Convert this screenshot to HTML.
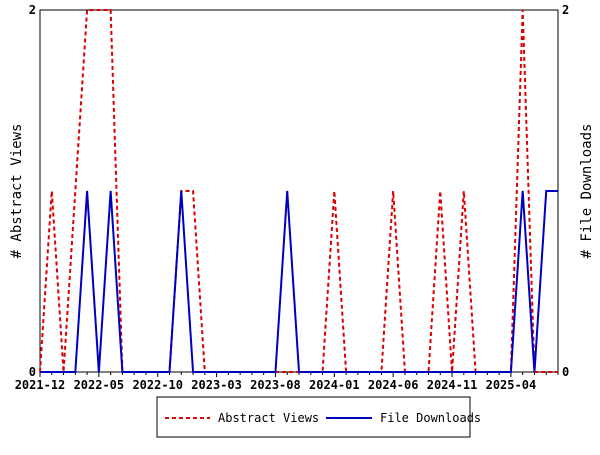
<!DOCTYPE html>
<html><head><meta charset="utf-8"><style>
body{margin:0;background:#fff}
svg text{font-family:"DejaVu Sans Mono","Liberation Mono",monospace;font-size:12px;font-weight:bold}
</style></head><body>
<svg id="c" width="600" height="450" xmlns="http://www.w3.org/2000/svg">
<rect x="40" y="10" width="518" height="362" fill="#fff" stroke="#000"/>
<g id="xt"></g>
<g id="series"></g>
<text x="36" y="14" text-anchor="end">2</text>
<text x="36" y="376" text-anchor="end">0</text>
<text x="562" y="14">2</text>
<text x="562" y="376">0</text>
<text transform="translate(21,191) rotate(-90)" text-anchor="middle" style="font-size:14px;font-weight:normal"># Abstract Views</text>
<text transform="translate(591,191) rotate(-90)" text-anchor="middle" style="font-size:14px;font-weight:normal"># File Downloads</text>
<g>
<rect x="157" y="397" width="313" height="40" fill="#fff" stroke="#000"/>
<line x1="165" y1="418" x2="210" y2="418" stroke="#d00" stroke-width="2" stroke-dasharray="4,3"/>
<text x="218" y="422" style="font-weight:normal">Abstract Views</text>
<line x1="326" y1="418" x2="372" y2="418" stroke="#0000c0" stroke-width="2"/>
<text x="380" y="422" style="font-weight:normal">File Downloads</text>
</g>
</svg>
<script>
const tickLabels=["2021-12","2022-05","2022-10","2023-03","2023-08","2024-01","2024-06","2024-11","2025-04"];
const views=[0,1,0,1,2,2,2,0,0,0,0,0,1,1,0,0,0,0,0,0,0,0,0,0,0,1,0,0,0,0,1,0,0,0,1,0,1,0,0,0,0,2,0,0,0];
const downloads=[0,0,0,0,1,0,1,0,0,0,0,0,1,0,0,0,0,0,0,0,0,1,0,0,0,0,0,0,0,0,0,0,0,0,0,0,0,0,0,0,0,1,0,1,1];
const NS="http://www.w3.org/2000/svg";
const n=views.length;
const x=i=>40+i*518/(n-1);
const y=v=>372-v*181;
const xt=document.getElementById('xt'),sg=document.getElementById('series');
for(let i=0;i<n;i++){
  const t=document.createElementNS(NS,'line');
  
  
  t.setAttribute('x1',x(i));t.setAttribute('x2',x(i));
  t.setAttribute('y1',372);t.setAttribute('y2',i%5==0?377:375);
  t.setAttribute('stroke','#000');xt.appendChild(t);
}
tickLabels.forEach((l,k)=>{
  const t=document.createElementNS(NS,'text');
  
  
  t.setAttribute('x',x(k*5));t.setAttribute('y',389);
  t.setAttribute('text-anchor','middle');t.textContent=l;xt.appendChild(t);
});
function line(arr,color,dash,name){
  const p=document.createElementNS(NS,'polyline');
  
  
  p.setAttribute('points',arr.map((v,i)=>x(i)+','+y(v)).join(' '));
  p.setAttribute('fill','none');p.setAttribute('stroke',color);p.setAttribute('stroke-width','2');
  if(dash)p.setAttribute('stroke-dasharray',dash);
  sg.appendChild(p);
}
line(views,'#d00','4,3','abstract-views-line');
line(downloads,'#0000c0',null,'file-downloads-line');
</script>
</body></html>
